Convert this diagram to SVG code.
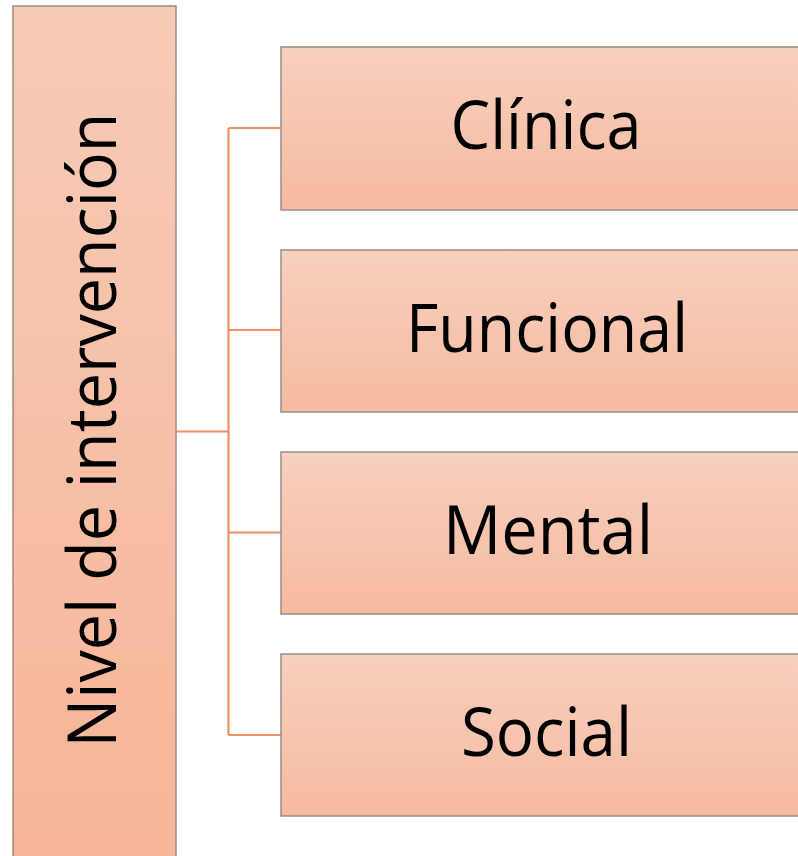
<svg xmlns="http://www.w3.org/2000/svg" width="798" height="856" viewBox="0 0 798 856">
<defs>
<linearGradient id="gL" x1="0" y1="0" x2="0" y2="1"><stop offset="0" stop-color="#F6CBB7"/><stop offset="1" stop-color="#F7B598"/></linearGradient>
<linearGradient id="gR" x1="0" y1="0" x2="0" y2="1"><stop offset="0" stop-color="#F7D0BF"/><stop offset="1" stop-color="#F6BA9F"/></linearGradient>
<style>
.box{stroke:#9C8C87;stroke-width:1.5}
.r{fill:url(#gR)}
.t{font-family:"Open Sans","Liberation Sans",sans-serif;font-size:67px;fill:#000;text-anchor:middle}
.c{fill:none;stroke:#EE9164;stroke-width:2.2}
</style>
</defs>
<rect width="798" height="856" fill="#fff"/>
<g id="connectors">
<path class="c" d="M176 431.5H228.5M228.5 128V735M228.5 128H281M228.5 330H281M228.5 532.5H281M228.5 735H281"/>
</g>
<g id="root">
<rect class="box" x="13" y="6" width="163" height="870" fill="url(#gL)"/>
<text class="t" transform="translate(116 430) rotate(-90)" x="0" y="0" textLength="635" lengthAdjust="spacingAndGlyphs">Nivel de intervención</text>
</g>
<g id="n1">
<rect class="box r" x="281" y="47" width="540" height="163"/>
<text class="t" x="546" y="149" textLength="191" lengthAdjust="spacingAndGlyphs">Clínica</text>
</g>
<g id="n2">
<rect class="box r" x="281" y="250" width="540" height="162"/>
<text class="t" x="547" y="352" textLength="282" lengthAdjust="spacingAndGlyphs">Funcional</text>
</g>
<g id="n3">
<rect class="box r" x="281" y="452" width="540" height="162"/>
<text class="t" x="548" y="554" textLength="210" lengthAdjust="spacingAndGlyphs">Mental</text>
</g>
<g id="n4">
<rect class="box r" x="281" y="654" width="540" height="162"/>
<text class="t" x="546.5" y="756" textLength="171" lengthAdjust="spacingAndGlyphs">Social</text>
</g>
</svg>
